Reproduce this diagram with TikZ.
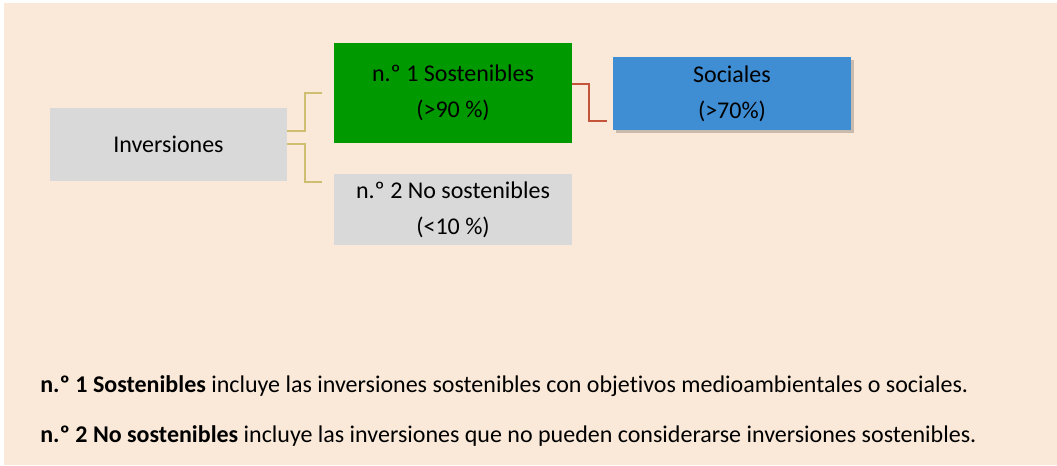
\documentclass[tikz,border=0pt]{standalone}
\usepackage{fontspec}
\setmainfont{Carlito}[Ligatures=NoCommon]
\usepackage{xcolor}
\usetikzlibrary{positioning, shadows}

\definecolor{fondo}{HTML}{FAE9D8}
\definecolor{gris}{HTML}{D9D9D9}
\definecolor{verde}{HTML}{009900}
\definecolor{azul}{HTML}{3F8ED4}
\definecolor{oliva}{HTML}{CDBE72}
\definecolor{rojo}{HTML}{C5553A}

\begin{document}
\begin{tikzpicture}[
          x=0.75pt, y=-0.75pt,
          caja/.style={rectangle, inner sep=0pt, minimum width=178.5pt, align=center,
                       font=\fontsize{18}{27}\selectfont},
          llave/.style={draw=oliva, line width=2pt},
          enlace/.style={draw=rojo, line width=2pt},
          nota/.style={anchor=base west, inner sep=0pt, font=\fontsize{18}{22}\selectfont}
        ]
          \useasboundingbox (0,0) rectangle (1057,465);
          \fill[fondo] (4,3) rectangle (1057,465);

          \node[caja, fill=gris, minimum width=177.75pt, minimum height=54.75pt] (inv) at (168.5,144.5) {Inversiones};
          \node[caja, fill=verde, minimum height=75pt] (sost) at (453,93) {n.º 1 Sostenibles\\(>90 \%)};
          \node[caja, fill=gris, minimum height=53.25pt] (nosost) at (453,209.5) {n.º 2 No sostenibles\\(<10 \%)};
          \node[caja, fill=azul, minimum height=54.75pt,
                drop shadow={shadow xshift=2.5pt, shadow yshift=-2.5pt, fill=black, opacity=0.2}]
                (soc) at (732,93.5) {Sociales\\(>70\%)};

          % llaves
          \coordinate (i1) at (287,131);
          \coordinate (i2) at (287,144);
          \coordinate (k1) at (305,93);
          \coordinate (k2) at (305,182);
          \coordinate (s1) at (322,93);
          \coordinate (s2) at (322,182);
          \draw[llave] (i1) -| (k1) -- (s1);
          \draw[llave] (i2) -| (k2) -- (s2);

          \coordinate (r1) at (572,84);
          \coordinate (r2) at (589,121);
          \coordinate (r3) at (607,121);
          \draw[enlace] (r1) -| (r2) -- (r3);

          \node[nota] (n1) at (40,392) {\textbf{n.º 1 Sostenibles} incluye las inversiones sostenibles con objetivos medioambientales o sociales.};
          \node[nota] (n2) at (40,442) {\textbf{n.º 2 No sostenibles} incluye las inversiones que no pueden considerarse inversiones sostenibles.};
        \end{tikzpicture}
\end{document}
